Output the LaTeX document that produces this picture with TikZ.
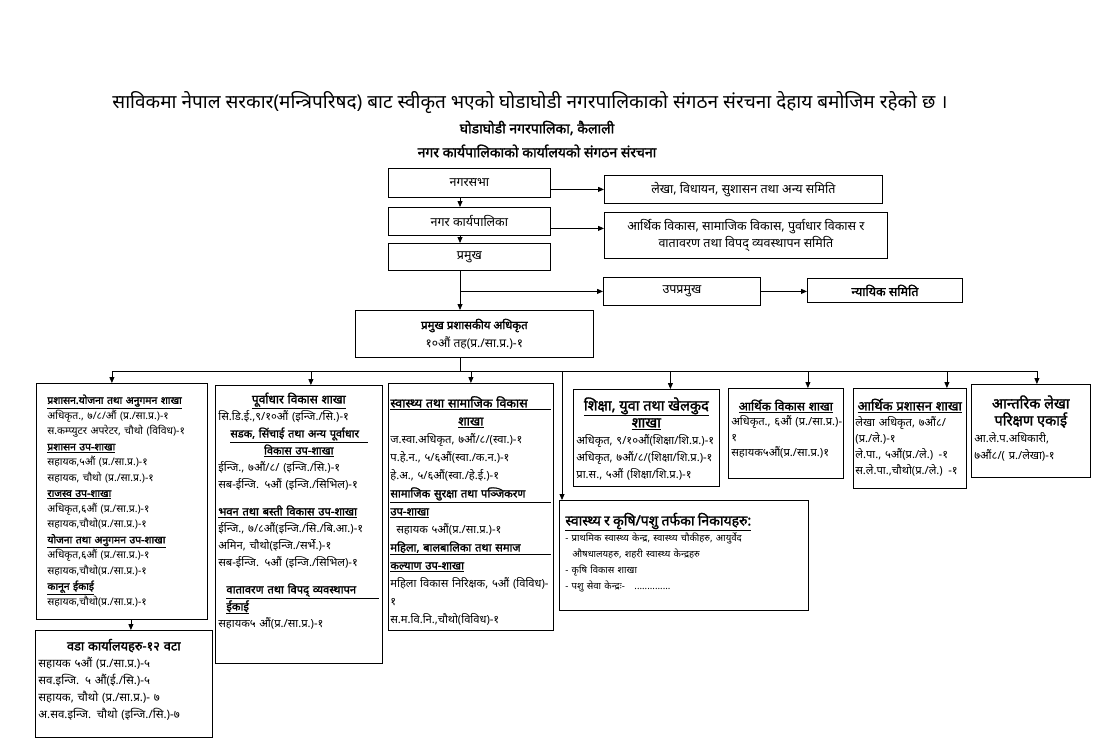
\documentclass[tikz,border=0pt]{standalone}
\usepackage{fontspec}
\setmainfont{Noto Sans}[Script=Devanagari, BoldFont={Noto Sans}, BoldFeatures={FakeBold=1.8}]
\usetikzlibrary{arrows.meta}

\newcommand{\hd}[1]{\underline{\textbf{#1}}}
\newcommand{\bighd}[2][12]{{\fontsize{#1}{18}\selectfont\hd{#2}}}
\newcommand{\ctr}[1]{\makebox[\hsize]{#1}}
\newcommand{\just}[1]{\makebox[\hsize][s]{#1}}
\newcommand{\spread}[2]{\makebox[#1][s]{#2}}
\newcommand{\fs}[2]{\fontsize{#1}{#2}\selectfont\lineskiplimit=-100pt}

\begin{document}
\begin{tikzpicture}[x=1pt, y=-1pt,
    top/.style={draw, line width=0.8pt, anchor=north west, align=center, inner sep=0pt, font=\fs{12.5}{17}},
    unit/.style={draw, line width=0.8pt, anchor=north west, align=left, inner xsep=3pt, inner ysep=2pt, text height=18pt, font=\fs{11.2}{17}},
    arr/.style={-{Triangle[length=6pt,width=5pt]}, line width=0.8pt}]
    \useasboundingbox (0,0) rectangle (1100,741);

    % titles
    \node[font=\fs{19}{22}] (title) at (530,103) {साविकमा नेपाल सरकार(मन्त्रिपरिषद) बाट स्वीकृत भएको घोडाघोडी नगरपालिकाको संगठन संरचना देहाय बमोजिम रहेको छ ।};
    \node[font=\bfseries\fs{14}{16}] (office) at (537,128) {घोडाघोडी नगरपालिका, कैलाली};
    \node[font=\bfseries\fs{14}{16}] (heading) at (537,151) {नगर कार्यपालिकाको कार्यालयको संगठन संरचना};

    % top chain
    \node[top, minimum width=162pt, minimum height=29pt] (sabha) at (388,168) {नगरसभा};
    \node[top, minimum width=162pt, minimum height=28pt] (karya) at (388,207) {नगर कार्यपालिका};
    \node[top, minimum width=162pt, minimum height=27pt] (pramukh) at (388,243) {प्रमुख};
    \node[top, minimum width=278pt, minimum height=28pt] (lekha) at (604,175) {लेखा, विधायन, सुशासन तथा अन्य समिति};
    \node[top, minimum width=283pt, minimum height=46pt] (samiti) at (604,212) {आर्थिक विकास, सामाजिक विकास, पुर्वाधार विकास र\\ वातावरण तथा विपद् व्यवस्थापन समिति};
    \node[top, minimum width=157pt, minimum height=28pt] (upa) at (603,277) {उपप्रमुख};
    \node[top, minimum width=155pt, minimum height=24pt, font=\bfseries\fs{12.5}{17}] (nyaya) at (807,278) {न्यायिक समिति};
    \node[top, minimum width=238pt, minimum height=47pt, font=\fs{12}{18}] (cao) at (355,310) {{\bfseries\fontsize{11.5}{18}\selectfont प्रमुख प्रशासकीय अधिकृत}\\ १०औं तह(प्र./सा.प्र.)-१};

    % branches
    \node[unit, inner xsep=11pt, text width=149pt, text height=18.5pt, text depth=213.5pt, font=\fs{10.4}{15.5}] (adm) at (36,383) {%
        \hd{प्रशासन.योजना तथा अनुगमन शाखा}\\
        अधिकृत., ७/८/औं (प्र./सा.प्र.)-१\\
        स.कम्प्युटर अपरेटर, चौथो (विविध)-१\\
        \hd{प्रशासन उप-शाखा}\\
        सहायक,५औं (प्र./सा.प्र.)-१\\
        सहायक, चौथो (प्र./सा.प्र.)-१\\
        \hd{राजस्व उप-शाखा}\\
        अधिकृत,६औं (प्र./सा.प्र.)-१\\
        सहायक,चौथो(प्र./सा.प्र.)-१\\
        \hd{योजना तथा अनुगमन उप-शाखा}\\
        अधिकृत,६औं (प्र./सा.प्र.)-१\\
        सहायक,चौथो(प्र./सा.प्र.)-१\\
        \hd{कानून ईकाई}\\
        सहायक,चौथो(प्र./सा.प्र.)-१};
    \node[unit, text width=171pt, text height=18pt, text depth=85pt, font=\fs{11.5}{17}] (ward) at (35,630) {%
        \ctr{\textbf{\fontsize{12.8}{17}\selectfont वडा कार्यालयहरु-१२ वटा}}\\
        सहायक ५औं (प्र./सा.प्र.)-५\\
        सव.इन्जि. ५ औं(ई./सि.)-५\\
        सहायक, चौथो (प्र./सा.प्र.)- ७\\
        अ.सव.इन्जि. चौथो (इन्जि./सि.)-७};
    \node[unit, text width=161pt, text height=16pt, text depth=258pt] (infra) at (215,385) {%
        \ctr{\bighd{पूर्वाधार विकास शाखा}}\\
        सि.डि.ई.,९/१०औं (इन्जि./सि.)-१\\
        \hspace*{12pt}\bighd[11]{\spread{138pt}{सडक, सिंचाई तथा अन्य पूर्वाधार}}\\
        \ctr{\bighd[11]{विकास उप-शाखा}}\\
        ईन्जि., ७औं/८/ (इन्जि./सि.)-१\\
        सब-ईन्जि. ५औं (इन्जि./सिभिल)-१\\[10pt]
        \hd{भवन तथा बस्ती विकास उप-शाखा}\\
        ईन्जि., ७/८औं(इन्जि./सि./बि.आ.)-१\\
        अमिन, चौथो(इन्जि./सर्भे.)-१\\
        सब-ईन्जि. ५औं (इन्जि./सिभिल)-१\\[10pt]
        \hspace*{8pt}\hd{\spread{153pt}{वातावरण तथा विपद् व्यवस्थापन}}\\
        \hspace*{8pt}\hd{ईकाई}\\
        सहायक५ औं(प्र./सा.प्र.)-१};
    \node[unit, inner xsep=2pt, text width=161pt, text height=22pt, text depth=221pt, font=\fs{11.2}{18}] (swas) at (388,383) {%
        \bighd[12.5]{\just{स्वास्थ्य तथा सामाजिक विकास}}\\
        \ctr{\bighd[12.5]{शाखा}}\\
        ज.स्वा.अधिकृत, ७औं/८/(स्वा.)-१\\
        प.हे.न., ५/६औं(स्वा./क.न.)-१\\
        हे.अ., ५/६औं(स्वा./हे.ई.)-१\\
        \hd{\just{सामाजिक सुरक्षा तथा पञ्जिकरण}}\\
        \hd{उप-शाखा}\\
        \hspace*{6pt}सहायक ५औं(प्र./सा.प्र.)-१\\
        \hd{\just{महिला, बालबालिका तथा समाज}}\\
        \hd{कल्याण उप-शाखा}\\
        महिला विकास निरिक्षक, ५औं (विविध)-\\
        १\\
        स.म.वि.नि.,चौथो(विविध)-१};
    \node[unit, text width=140pt, text height=19pt, text depth=74pt] (edu) at (573,389) {%
        \ctr{\bighd[14.5]{शिक्षा, युवा तथा खेलकुद}}\\
        \ctr{\bighd[14.5]{शाखा}}\\
        अधिकृत, ९/१०औं(शिक्षा/शि.प्र.)-१\\
        अधिकृत, ७औं/८/(शिक्षा/शि.प्र.)-१\\
        प्रा.स., ५औं (शिक्षा/शि.प्र.)-१};
    \node[unit, text width=109pt, text height=20pt, text depth=66pt, font=\fs{11.2}{15.5}] (econ) at (728,388) {%
        \ctr{\bighd[12]{आर्थिक विकास शाखा}}\\
        \just{अधिकृत., ६औं (प्र./सा.प्र.)-}\\
        १\\
        सहायक५औं(प्र./सा.प्र.)१};
    \node[unit, inner xsep=2pt, text width=109pt, text height=20pt, text depth=76pt, font=\fs{11.2}{16}] (fin) at (853,388) {%
        \ctr{\bighd[13]{आर्थिक प्रशासन शाखा}}\\
        \just{लेखा अधिकृत, ७औं८/}\\
        (प्र./ले.)-१\\
        ले.पा., ५औं(प्र./ले.) -१\\
        स.ले.पा.,चौथो(प्र./ले.) -१};
    \node[unit, text width=113pt, text height=22pt, text depth=67pt] (audit) at (971,384) {%
        \ctr{\textbf{\fontsize{14.5}{17}\selectfont आन्तरिक लेखा}}\\
        \ctr{\textbf{\fontsize{14.5}{17}\selectfont परिक्षण एकाई}}\\
        आ.ले.प.अधिकारी,\\
        ७औं८/( प्र./लेखा)-१};
    \node[unit, inner xsep=6pt, text width=237pt, text height=23pt, text depth=83pt, font=\fs{9.6}{16}] (hlth) at (559,500) {%
        \bighd[14]{स्वास्थ्य र कृषि/पशु तर्फका निकायहरु:}\\
        - प्राथमिक स्वास्थ्य केन्द्र, स्वास्थ्य चौकीहरु, आयुर्वेद\\
        \hspace*{7pt}औषधालयहरु, शहरी स्वास्थ्य केन्द्रहरु\\
        - कृषि विकास शाखा\\
        - पशु सेवा केन्द्रः-\quad ..............};

    % connectors
    \coordinate (spine) at (460,0);
    \coordinate (bus) at (0,371);
    \draw[arr] (sabha.south -| spine) -- (karya.north -| spine);
    \draw[arr] (karya.south -| spine) -- (pramukh.north -| spine);
    \draw[arr] (pramukh.south -| spine) -- (cao.north -| spine);
    \draw[arr] (upa.west -| spine) -- (upa.west);
    \draw[arr] (upa.east) -- (upa.east -| nyaya.west);
    \draw[arr] (lekha.west -| sabha.east) -- (lekha.west);
    \draw[arr] ([yshift=-7pt]karya.east) -- ([yshift=-7pt]karya.east -| samiti.west);

    \coordinate (admin) at ([xshift=-10pt]adm.north);
    \coordinate (infrain) at ([xshift=12pt]infra.north);
    \coordinate (swasin) at (swas.north);
    \coordinate (hlthin) at ([xshift=3pt]hlth.north west);
    \coordinate (eduin) at ([xshift=24pt]edu.north);
    \coordinate (econin) at ([xshift=22pt]econ.north);
    \coordinate (finin) at ([xshift=37pt]fin.north);
    \coordinate (auditin) at ([xshift=6pt]audit.north);
    \coordinate (wardin) at ([xshift=7pt]ward.north);
    \draw[line width=0.8pt] (cao.south -| spine) -- (bus -| spine);
    \draw[line width=0.8pt] (bus -| admin) -- (bus -| auditin);
    \foreach \t in {admin, infrain, swasin, hlthin, eduin, econin, finin, auditin}
        \draw[arr] (bus -| \t) -- (\t);
    \draw[arr] (wardin |- adm.south) -- (wardin);
\end{tikzpicture}
\end{document}
